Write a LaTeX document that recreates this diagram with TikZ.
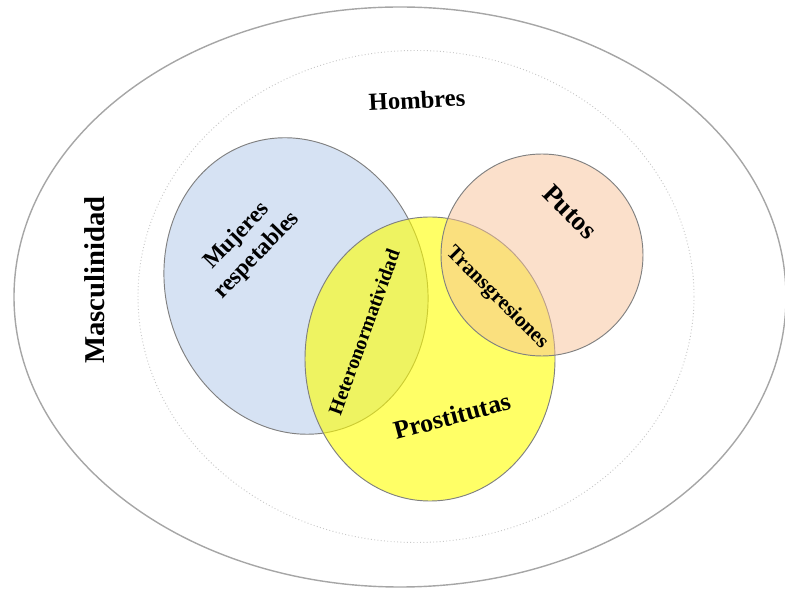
\documentclass[tikz,border=0pt]{standalone}
\usepackage{fontspec}
\setmainfont{Liberation Serif}
\usepackage{tikz}
\usetikzlibrary{positioning}
\definecolor{RingGrey}{HTML}{A6A6A6}
\definecolor{DotGrey}{HTML}{C8C8C8}
\definecolor{EdgeGrey}{HTML}{808080}
\definecolor{MujerBlue}{HTML}{D6E2F3}
\definecolor{ProsYellow}{HTML}{FFFF00}
\definecolor{PutoPeach}{HTML}{F7C197}
\tikzset{lbl/.style={font=\bfseries,align=center,inner sep=1pt}}

\begin{document}
\begin{tikzpicture}[x=0.03cm,y=0.03cm]
  \useasboundingbox (0,0) rectangle (785,590);
  \draw[RingGrey,line width=1.2pt] (400,293) ellipse (386 and 290);
  \draw[DotGrey,dotted,line width=0.8pt] (416,293.5) ellipse (278 and 246);
  \draw[EdgeGrey,fill=MujerBlue,line width=0.8pt,rotate around={18:(296,304)}] (296,304) ellipse (130 and 150);
  \draw[EdgeGrey,fill=ProsYellow,fill opacity=0.6,line width=0.8pt] (430,231) ellipse (125 and 142);
  \draw[EdgeGrey,fill=PutoPeach,fill opacity=0.5,line width=0.8pt] (542,335) circle (101);
  \node[lbl,font=\fontsize{21}{24}\selectfont\bfseries,rotate=3] (hombres) at (417,490) {Hombres};
  \node[lbl,font=\fontsize{24.5}{28}\selectfont\bfseries,rotate=90] (masc) at (95,310) {Masculinidad};
  \node[lbl,font=\fontsize{20}{24}\selectfont\bfseries,rotate=46] (mujeres) at (247,344) {Mujeres\\respetables};
  \node[lbl,font=\fontsize{17}{20}\selectfont\bfseries,rotate=70] (hetero) at (364,258) {Heteronormatividad};
  \node[lbl,font=\fontsize{18}{21}\selectfont\bfseries,rotate=-45] (trans) at (497,292) {Transgresiones};
  \node[lbl,font=\fontsize{23}{26}\selectfont\bfseries,rotate=-45] (putos) at (570,378) {Putos};
  \node[lbl,font=\fontsize{22}{25}\selectfont\bfseries,rotate=15] (pros) at (452,174) {Prostitutas};
\end{tikzpicture}
\end{document}
